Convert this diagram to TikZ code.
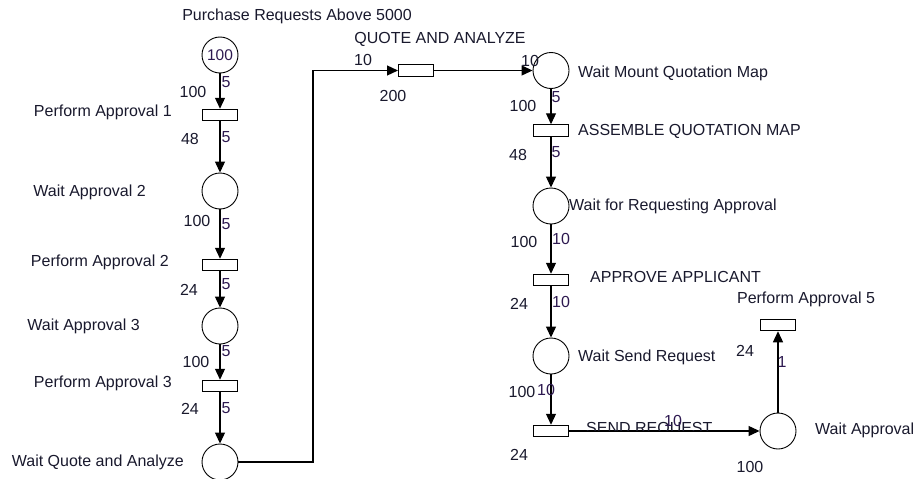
\documentclass[tikz,border=0pt]{standalone}
\usepackage{fontspec}
\setmainfont{Liberation Sans}
\usetikzlibrary{arrows.meta}
\definecolor{wcol}{RGB}{45,25,80}
\definecolor{tcol}{RGB}{25,25,45}
\begin{document}
\begin{tikzpicture}[x=1pt,y=-1pt,
  place/.style={circle,draw,line width=0.9pt,minimum size=36pt,inner sep=0pt,text=wcol,font=\fontsize{15.5}{17}\selectfont},
  trans/.style={rectangle,draw,line width=1pt,minimum width=35pt,minimum height=11.5pt,inner sep=0pt},
  arc/.style={line width=1.2pt,-{Triangle[length=11pt,width=10pt]}},
  lbl/.style={font=\fontsize{16}{18}\selectfont,inner sep=0pt,text=tcol},
  wt/.style={font=\fontsize{16}{18}\selectfont,inner sep=0pt,text=wcol}]
\path[use as bounding box] (0,0) rectangle (916,479);

% left column
\node[place] (p0) at (220,55) {100};
\node[trans] (t1) at (220,115) {};
\node[place] (p2) at (220,191) {};
\node[trans] (t2) at (220,265) {};
\node[place] (p3) at (220,326) {};
\node[trans] (t3) at (220,386) {};
\node[place] (pq) at (220,462) {};
\coordinate (bend) at (313,462);

% top / right column
\node[trans] (tq) at (416,70.5) {};
\node[place] (pm) at (551,70.5) {};
\node[trans] (ta) at (551,130.5) {};
\node[place] (pr) at (551,206) {};
\node[trans] (tb) at (551,280) {};
\node[place] (ps) at (551,356) {};
\node[trans] (tc) at (551,431) {};
\node[place] (pw) at (778,431) {};
\node[trans] (t5) at (778,325) {};

% arcs
\draw[arc] (p0) -- (t1);
\draw[arc] (t1) -- (p2);
\draw[arc] (p2) -- (t2);
\draw[arc] (t2) -- (p3);
\draw[arc] (p3) -- (t3);
\draw[arc] (t3) -- (pq);
\draw[arc] (pq.east) -- (bend) |- (tq.west);
\draw[arc] (tq) -- (pm);
\draw[arc] (pm) -- (ta);
\draw[arc] (ta) -- (pr);
\draw[arc] (pr) -- (tb);
\draw[arc] (tb) -- (ps);
\draw[arc] (ps) -- (tc);
\draw[arc] (tc) -- (pw);
\draw[arc] (pw) -- (t5);

% node labels
\node[lbl] (l0) at (297,16) {Purchase Requests Above 5000};
\node[lbl,anchor=east] (l1) at (172,112) {Perform Approval 1};
\node[lbl,anchor=east] (l2) at (146,192) {Wait Approval 2};
\node[lbl,anchor=east] (l3) at (169,262) {Perform Approval 2};
\node[lbl,anchor=east] (l4) at (140,326) {Wait Approval 3};
\node[lbl,anchor=east] (l5) at (172,383) {Perform Approval 3};
\node[lbl,anchor=east] (l6) at (184,462) {Wait Quote and Analyze};
\node[lbl] (l7) at (440,39) {QUOTE AND ANALYZE};
\node[lbl,anchor=west] (l8) at (578,73) {Wait Mount Quotation Map};
\node[lbl,anchor=west] (l9) at (578,131) {ASSEMBLE QUOTATION MAP};
\node[lbl,anchor=west] (l10) at (569,206) {Wait for Requesting Approval};
\node[lbl,anchor=west] (l11) at (590,277) {APPROVE APPLICANT};
\node[lbl,anchor=west] (l12) at (578,357) {Wait Send Request};
\begin{scope}
  \clip (570,400) rectangle (720,430.5);
  \node[lbl,anchor=base west] (l13) at (586,433) {SEND REQUEST};
\end{scope}
\node[lbl,anchor=west] (l14) at (815,430) {Wait Approval};
\node[lbl] (l15) at (806,299) {Perform Approval 5};

% weights and numbers
\node[wt] (w1) at (226,82) {5};
\node[lbl] (n1) at (193,92) {100};
\node[lbl] (n2) at (190,139) {48};
\node[wt] (w2) at (226,137) {5};
\node[lbl] (n3) at (197,221) {100};
\node[wt] (w3) at (226,224) {5};
\node[lbl] (n4) at (189,290) {24};
\node[wt] (w4) at (226,284) {5};
\node[wt] (w5) at (226,351) {5};
\node[lbl] (n5) at (196,362) {100};
\node[lbl] (n6) at (190,409) {24};
\node[wt] (w6) at (226,408) {5};
\node[lbl] (n7) at (363,60) {10};
\node[lbl] (n8) at (393,96) {200};
\node[lbl] (n9) at (530,61) {10};
\node[wt] (w7) at (556,97) {5};
\node[lbl] (n10) at (523,106) {100};
\node[lbl] (n11) at (518,155) {48};
\node[wt] (w8) at (556,152) {5};
\node[lbl] (n12) at (524,242) {100};
\node[wt] (w9) at (561,239) {10};
\node[lbl] (n13) at (519,304) {24};
\node[wt] (w10) at (561,302) {10};
\node[lbl] (n14) at (522,392) {100};
\node[wt] (w11) at (546,390) {10};
\node[lbl] (n15) at (519,455) {24};
\node[wt] (w12) at (673,421) {10};
\node[lbl] (n16) at (750,467) {100};
\node[lbl] (n17) at (745,351) {24};
\node[wt] (w13) at (782,362) {1};
\end{tikzpicture}
\end{document}
